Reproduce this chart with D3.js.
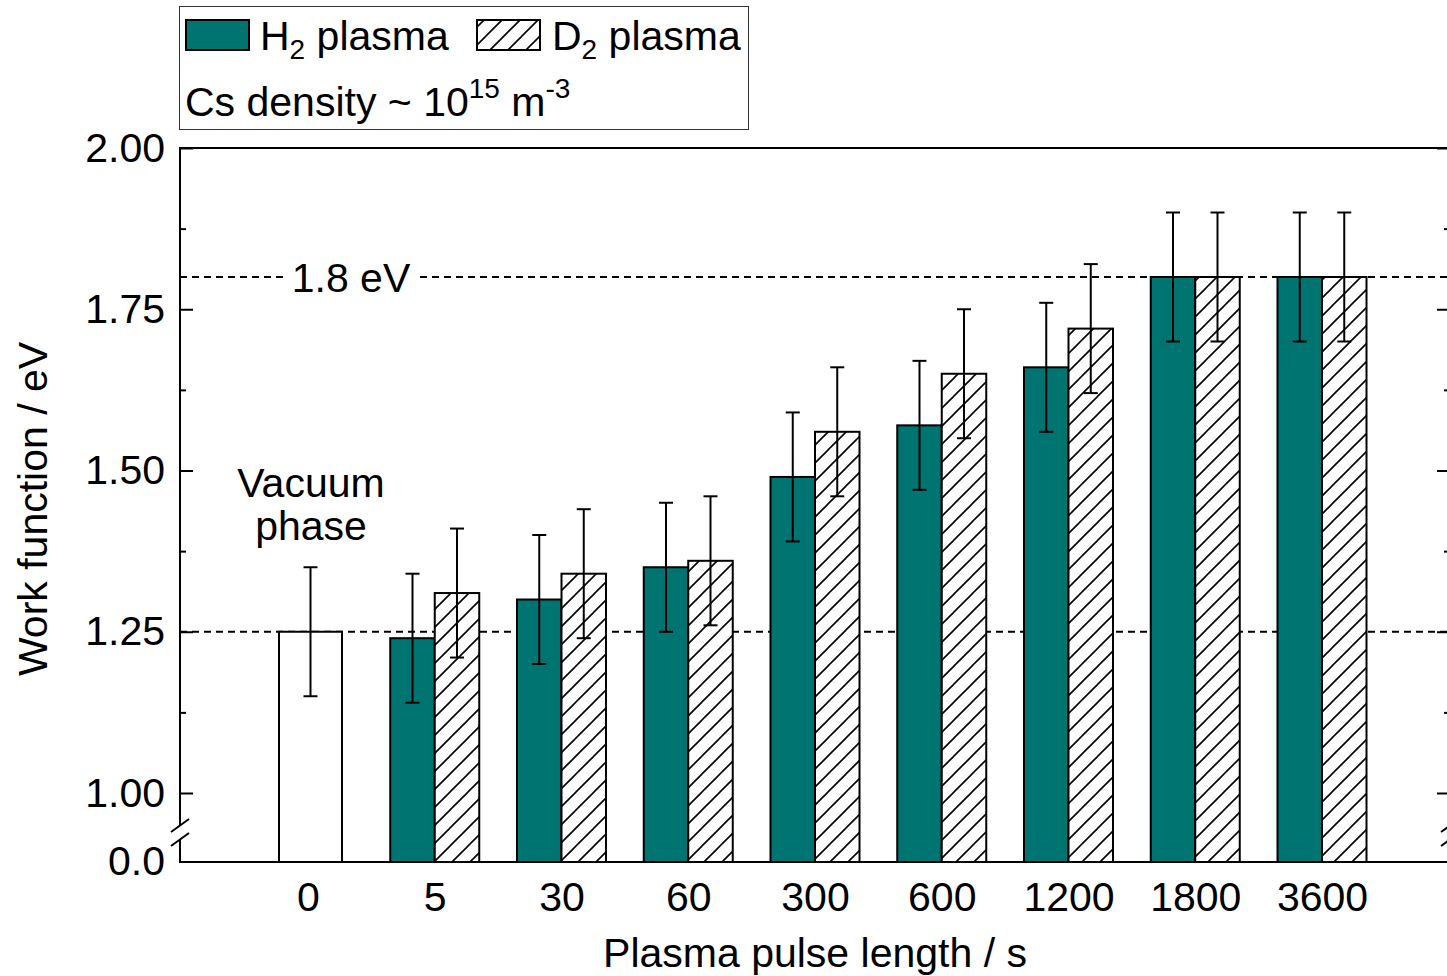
<!DOCTYPE html>
<html>
<head>
<meta charset="utf-8">
<script src="https://cdn.jsdelivr.net/npm/d3@7"></script>
<style>
  body { margin: 0; background: #fff; }
  svg { display: block; font-family: 'Liberation Sans', Arial, sans-serif; }
</style>
</head>
<body>
<svg id="chart" width="1447" height="976"></svg>
<script>
const categories = ['0', '5', '30', '60', '300', '600', '1200', '1800', '3600'];
// null = no bar for that category
const h2Values = [null, 1.24, 1.30, 1.35, 1.49, 1.57, 1.66, 1.80, 1.80];
const d2Values = [null, 1.31, 1.34, 1.36, 1.56, 1.65, 1.72, 1.80, 1.80];
const vacuumValue = 1.25;
const errorValue = 0.10;
const yTicks = [1.00, 1.25, 1.50, 1.75, 2.00];
const yMinorTicks = [1.125, 1.375, 1.625, 1.875];
const refLines = [1.25, 1.8];

const teal = '#007470';
const fontSize = 41;
const plotL = 180, plotR = 1450, plotT = 148, plotB = 862;

const svg = d3.select('#chart');

const x = d3.scalePoint()
  .domain(categories)
  .range([308, 1322]);
// broken axis: 0 -> 1 squeezed below the break
const y = d3.scaleLinear()
  .domain([0, 1, 2])
  .range([plotB, 793, plotT]);

const barW = 44.5;
const vacX = x('0') + 2.5;

// hatch pattern
const defs = svg.append('defs');
const pat = defs.append('pattern')
  .attr('id', 'hatch')
  .attr('patternUnits', 'userSpaceOnUse')
  .attr('width', 18).attr('height', 18);
pat.append('rect').attr('width', 18).attr('height', 18).attr('fill', '#fff');
pat.append('path')
  .attr('d', 'M-2,20 L20,-2 M-2,2 L2,-2 M16,20 L20,16')
  .attr('stroke', '#000').attr('stroke-width', 1.6);

// reference dashed lines
svg.append('g').selectAll('line')
  .data(refLines)
  .enter()
  .append('line')
  .attr('x1', plotL).attr('x2', plotR)
  .attr('y1', d => y(d)).attr('y2', d => y(d))
  .attr('stroke', '#000')
  .attr('stroke-width', 2)
  .attr('stroke-dasharray', '7,5');

// label on 1.8 eV line
svg.append('rect')
  .attr('x', 284).attr('y', y(1.8) - 18)
  .attr('width', 133).attr('height', 36)
  .attr('fill', '#fff');
svg.append('text')
  .attr('x', 351).attr('y', y(1.8))
  .attr('dy', '0.36em')
  .attr('text-anchor', 'middle')
  .style('font-size', fontSize + 'px')
  .text('1.8 eV');

// bars
const h2Data = categories.map((c, i) => ({ c, v: h2Values[i] })).filter(d => d.v !== null);
const d2Data = categories.map((c, i) => ({ c, v: d2Values[i] })).filter(d => d.v !== null);

svg.append('rect')
  .attr('x', vacX - 31.5)
  .attr('y', y(vacuumValue))
  .attr('width', 63)
  .attr('height', y(0) - y(vacuumValue))
  .attr('fill', '#fff')
  .attr('stroke', '#000')
  .attr('stroke-width', 2);

svg.append('g').selectAll('rect')
  .data(h2Data)
  .enter()
  .append('rect')
  .attr('x', d => x(d.c) - barW)
  .attr('y', d => y(d.v))
  .attr('width', barW)
  .attr('height', d => y(0) - y(d.v))
  .attr('fill', teal)
  .attr('stroke', '#000')
  .attr('stroke-width', 2);

svg.append('g').selectAll('rect')
  .data(d2Data)
  .enter()
  .append('rect')
  .attr('x', d => x(d.c))
  .attr('y', d => y(d.v))
  .attr('width', barW)
  .attr('height', d => y(0) - y(d.v))
  .attr('fill', 'url(#hatch)')
  .attr('stroke', '#000')
  .attr('stroke-width', 2);

// error bars
const errData = [{ cx: vacX, v: vacuumValue }]
  .concat(h2Data.map(d => ({ cx: x(d.c) - barW / 2, v: d.v })))
  .concat(d2Data.map(d => ({ cx: x(d.c) + barW / 2, v: d.v })));

const eg = svg.append('g').attr('stroke', '#000').attr('stroke-width', 2);
errData.forEach(d => {
  eg.append('line')
    .attr('x1', d.cx).attr('x2', d.cx)
    .attr('y1', y(d.v + errorValue)).attr('y2', y(d.v - errorValue));
  [d.v + errorValue, d.v - errorValue].forEach(e => {
    eg.append('line')
      .attr('x1', d.cx - 7).attr('x2', d.cx + 7)
      .attr('y1', y(e)).attr('y2', y(e));
  });
});

// frame lines
const fg = svg.append('g').attr('stroke', '#000').attr('stroke-width', 2).attr('fill', 'none');
fg.append('line').attr('x1', plotL).attr('x2', plotR).attr('y1', plotT).attr('y2', plotT);
fg.append('line').attr('x1', plotL - 1).attr('x2', plotR).attr('y1', plotB).attr('y2', plotB);
[plotL, plotR].forEach(ax => {
  fg.append('line').attr('x1', ax).attr('x2', ax).attr('y1', plotT - 1).attr('y2', 825);
  fg.append('line').attr('x1', ax).attr('x2', ax).attr('y1', 839).attr('y2', plotB + 1);
  fg.append('line').attr('x1', ax - 9).attr('x2', ax + 9).attr('y1', 832).attr('y2', 819);
  fg.append('line').attr('x1', ax - 9).attr('x2', ax + 9).attr('y1', 846).attr('y2', 833);
});

// y axis
svg.append('g')
  .attr('transform', `translate(${plotL},0)`)
  .call(d3.axisLeft(y).tickValues(yTicks).tickFormat(d3.format('.2f')).tickSizeInner(-13).tickSizeOuter(0).tickPadding(15));
svg.append('g')
  .attr('transform', `translate(${plotL},0)`)
  .call(d3.axisLeft(y).tickValues(yMinorTicks).tickFormat('').tickSizeInner(-6).tickSizeOuter(0));
svg.append('g')
  .attr('transform', `translate(${plotR},0)`)
  .call(d3.axisRight(y).tickValues(yTicks).tickFormat('').tickSizeInner(-13).tickSizeOuter(0));
svg.append('g')
  .attr('transform', `translate(${plotR},0)`)
  .call(d3.axisRight(y).tickValues(yMinorTicks).tickFormat('').tickSizeInner(-6).tickSizeOuter(0));

svg.append('text')
  .attr('x', plotL - 15).attr('y', y(0))
  .attr('dy', '0.32em')
  .attr('text-anchor', 'end')
  .style('font-size', fontSize + 'px')
  .text('0.0');

// x axis labels
svg.append('g')
  .attr('transform', `translate(0,${plotB})`)
  .call(d3.axisBottom(x).tickSize(0).tickPadding(20));

svg.selectAll('.domain').remove();
svg.selectAll('.tick line').attr('stroke', '#000').attr('stroke-width', 2);
svg.selectAll('.tick text')
  .attr('fill', '#000')
  .style('font-family', "'Liberation Sans', Arial, sans-serif")
  .style('font-size', fontSize + 'px');

// axis titles
svg.append('text')
  .attr('x', 815).attr('y', 967)
  .attr('text-anchor', 'middle')
  .style('font-size', fontSize + 'px')
  .text('Plasma pulse length / s');

svg.append('text')
  .attr('transform', 'translate(47,509) rotate(-90)')
  .attr('text-anchor', 'middle')
  .style('font-size', fontSize + 'px')
  .text('Work function / eV');

// vacuum phase note
svg.append('text')
  .attr('x', 311).attr('y', 497)
  .attr('text-anchor', 'middle')
  .style('font-size', fontSize + 'px')
  .text('Vacuum');
svg.append('text')
  .attr('x', 311).attr('y', 540)
  .attr('text-anchor', 'middle')
  .style('font-size', fontSize + 'px')
  .text('phase');

// legend
const lg = svg.append('g');
lg.append('rect')
  .attr('x', 179.5).attr('y', 6.5)
  .attr('width', 569).attr('height', 123)
  .attr('fill', '#fff')
  .attr('stroke', '#333')
  .attr('stroke-width', 1);
lg.append('rect')
  .attr('x', 186).attr('y', 20).attr('width', 63).attr('height', 30)
  .attr('fill', teal).attr('stroke', '#000').attr('stroke-width', 2);
lg.append('rect')
  .attr('x', 477).attr('y', 20).attr('width', 63).attr('height', 30)
  .attr('fill', 'url(#hatch)').attr('stroke', '#000').attr('stroke-width', 2);

const legendItems = [['H', 260], ['D', 552]];
legendItems.forEach(([sym, lx]) => {
  const t = lg.append('text')
    .attr('x', lx).attr('y', 50)
    .style('font-size', fontSize + 'px');
  t.append('tspan').text(sym);
  t.append('tspan').attr('dy', 9).style('font-size', '28px').text('2');
  t.append('tspan').attr('dy', -9).text(' plasma');
});

const cs = lg.append('text')
  .attr('x', 185).attr('y', 116)
  .style('font-size', fontSize + 'px');
cs.append('tspan').text('Cs density ~ 10');
cs.append('tspan').attr('dy', -18).style('font-size', '28px').text('15');
cs.append('tspan').attr('dy', 18).text(' m');
cs.append('tspan').attr('dy', -18).style('font-size', '28px').text('-3');
</script>
</body>
</html>
